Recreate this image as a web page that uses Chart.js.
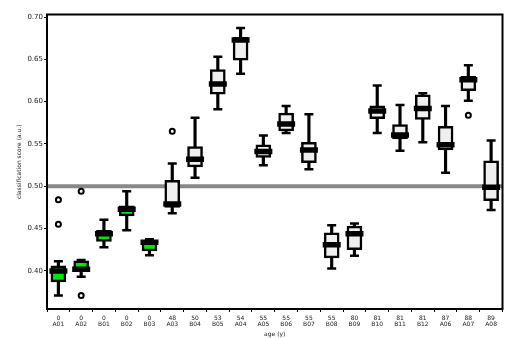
<!DOCTYPE html>
<html lang="en">
<head>
    <meta charset="UTF-8">
    <title>Classification score by age</title>
    <style>
        body {
            margin: 0;
            background: #fff;
        }
        #wrap {
            width: 517px;
            height: 338px;
        }
    </style>
</head>
<body>
    <div id="wrap"><canvas id="scoreChart"></canvas></div>

    <script src="https://cdn.jsdelivr.net/npm/chart.js"></script>
    <script>
        const names = ["A01", "A02", "B01", "B02", "B03", "A03", "B04", "B05", "A04", "A05",
                       "B06", "B07", "B08", "B09", "B10", "B11", "B12", "A06", "A07", "A08"];
        const ages = [0, 0, 0, 0, 0, 48, 50, 53, 54, 55, 55, 55, 55, 80, 81, 81, 81, 87, 88, 89];

        // box plot stats
        const whiskerLow = [0.371, 0.393, 0.428, 0.448, 0.4185, 0.468, 0.510, 0.591, 0.633, 0.525,
                            0.563, 0.520, 0.403, 0.418, 0.563, 0.542, 0.552, 0.516, 0.601, 0.472];
        const q1 = [0.387, 0.399, 0.435, 0.465, 0.4235, 0.475, 0.523, 0.609, 0.649, 0.534,
                    0.5655, 0.528, 0.4155, 0.425, 0.580, 0.556, 0.579, 0.543, 0.613, 0.483];
        const median = [0.400, 0.402, 0.444, 0.473, 0.434, 0.479, 0.532, 0.621, 0.673, 0.541,
                        0.5735, 0.543, 0.431, 0.444, 0.589, 0.5605, 0.592, 0.549, 0.626, 0.499];
        const q3 = [0.406, 0.412, 0.448, 0.477, 0.436, 0.507, 0.547, 0.638, 0.676, 0.549,
                    0.5865, 0.552, 0.445, 0.453, 0.595, 0.573, 0.608, 0.571, 0.630, 0.530];
        const whiskerHigh = [0.4115, 0.413, 0.4605, 0.494, 0.4375, 0.527, 0.581, 0.653, 0.687, 0.560,
                             0.595, 0.585, 0.454, 0.456, 0.619, 0.596, 0.610, 0.595, 0.643, 0.554];
        const outliers = [
            { name: "A01", value: 0.484 },
            { name: "A01", value: 0.455 },
            { name: "A02", value: 0.494 },
            { name: "A02", value: 0.371 },
            { name: "A03", value: 0.565 },
            { name: "A07", value: 0.584 }
        ];
        const yTicks = [0.40, 0.45, 0.50, 0.55, 0.60, 0.65, 0.70];
        const chanceLevel = 0.50;

        const font = "'DejaVu Sans', sans-serif";

        const chancePlugin = {
            id: "chance",
            beforeDatasetsDraw(chart) {
                const { ctx, chartArea, scales } = chart;
                const y = scales.y.getPixelForValue(chanceLevel);
                ctx.save();
                ctx.strokeStyle = "#888";
                ctx.lineWidth = 4;
                ctx.beginPath();
                ctx.moveTo(chartArea.left, y);
                ctx.lineTo(chartArea.right, y);
                ctx.stroke();
                ctx.restore();
            }
        };

        const framePlugin = {
            id: "frame",
            afterDraw(chart) {
                const { ctx, chartArea } = chart;
                ctx.save();
                ctx.strokeStyle = "#000";
                ctx.lineWidth = 2;
                ctx.strokeRect(chartArea.left, chartArea.top,
                               chartArea.right - chartArea.left, chartArea.bottom - chartArea.top);
                ctx.restore();
            }
        };

        const capStyle = {
            type: "line",
            showLine: false,
            pointStyle: "line",
            pointRadius: 4.5,
            pointBorderWidth: 2.5,
            pointBorderColor: "#000",
            order: 2
        };

        new Chart(document.getElementById("scoreChart"), {
            type: "bar",
            data: {
                labels: names,
                datasets: [
                    {
                        label: "whiskers",
                        data: names.map((n, i) => [whiskerLow[i], whiskerHigh[i]]),
                        backgroundColor: "#000",
                        barThickness: 2.5,
                        grouped: false,
                        order: 5
                    },
                    {
                        label: "boxes",
                        data: names.map((n, i) => [q1[i], q3[i]]),
                        backgroundColor: ages.map(a => a === 0 ? "#00e600" : "#efefef"),
                        borderColor: "#000",
                        borderWidth: 2.5,
                        borderSkipped: false,
                        barThickness: 15,
                        grouped: false,
                        order: 4
                    },
                    Object.assign({ label: "high", data: whiskerHigh }, capStyle),
                    Object.assign({ label: "low", data: whiskerLow }, capStyle),
                    {
                        label: "median",
                        type: "line",
                        data: median,
                        showLine: false,
                        pointStyle: "line",
                        pointRadius: 9,
                        pointBorderWidth: 5.5,
                        pointBorderColor: "#000",
                        order: 1
                    },
                    {
                        label: "outliers",
                        type: "line",
                        data: outliers.map(o => ({ x: o.name, y: o.value })),
                        showLine: false,
                        pointStyle: "circle",
                        pointRadius: 2.5,
                        pointBorderWidth: 2,
                        pointBorderColor: "#000",
                        pointBackgroundColor: "#fff",
                        order: 1
                    }
                ]
            },
            options: {
                responsive: true,
                maintainAspectRatio: false,
                animation: false,
                layout: { padding: { top: 8, right: 5, left: 0, bottom: 0 } },
                plugins: {
                    legend: { display: false },
                    tooltip: { enabled: false }
                },
                scales: {
                    x: {
                        offset: true,
                        border: { display: false },
                        grid: { drawOnChartArea: false, tickLength: 3, color: "#000" },
                        ticks: {
                            autoSkip: false,
                            maxRotation: 0,
                            padding: 3,
                            color: "#222",
                            font: { family: font, size: 6, lineHeight: 1.0 },
                            callback: (v, i) => [String(ages[i]), names[i]]
                        },
                        title: {
                            display: true,
                            text: "age (y)",
                            color: "#222",
                            font: { family: font, size: 6 },
                            padding: { top: 0, bottom: 0 }
                        },
                        afterFit(scale) { scale.height = 29; }
                    },
                    y: {
                        min: 0.355,
                        max: 0.703,
                        border: { display: false },
                        grid: { drawOnChartArea: false, tickLength: 3, color: "#000" },
                        afterBuildTicks(scale) { scale.ticks = yTicks.map(v => ({ value: v })); },
                        ticks: {
                            padding: 1,
                            color: "#222",
                            font: { family: font, size: 7 },
                            callback: v => v.toFixed(2)
                        },
                        title: {
                            display: true,
                            text: "classification score (a.u.)",
                            color: "#222",
                            font: { family: font, size: 6 },
                            padding: { top: 16, bottom: 0 }
                        },
                        afterFit(scale) { scale.width = 47; }
                    }
                }
            },
            plugins: [chancePlugin, framePlugin]
        });
    </script>
</body>
</html>
